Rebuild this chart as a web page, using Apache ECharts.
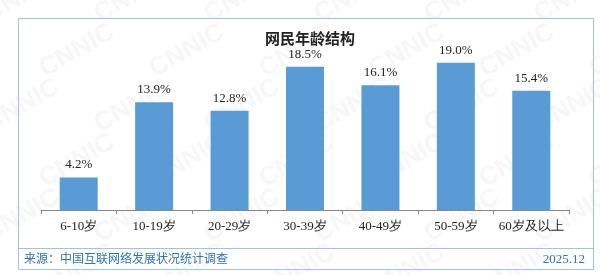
<!DOCTYPE html>
<html>
<head>
<meta charset="utf-8">
<script src="https://cdn.jsdelivr.net/npm/echarts@6/dist/echarts.min.js"></script>
<style>
  html, body { margin: 0; padding: 0; background: #fff; }
  #main { width: 600px; height: 275px; }
</style>
</head>
<body>
<div id="main"></div>
<script>
var ageGroups = ['6-10岁', '10-19岁', '20-29岁', '30-39岁', '40-49岁', '50-59岁', '60岁及以上'];
var shares = [4.2, 13.9, 12.8, 18.5, 16.1, 19.0, 15.4];

var myChart = echarts.init(document.getElementById('main'));

// faint CNNIC watermark
var marks = [];
for (var r = 0; r < 6; r++) {
  for (var c = 0; c < 6; c++) {
    marks.push({
      type: 'text',
      x: c * 110 + (r % 2) * 55 - 20,
      y: r * 55 + 5,
      rotation: Math.PI / 6,
      silent: true,
      z: 0,
      style: {
        text: 'CNNIC',
        fill: 'rgba(0,0,0,0.03)',
        font: 'bold 26px Arial'
      }
    });
  }
}

var option = {
  animation: false,
  title: {
    text: '网民年龄结构',
    left: 305,
    top: 26,
    textAlign: 'center',
    textStyle: {
      fontFamily: 'Noto Sans CJK SC',
      fontSize: 15,
      fontWeight: 'bold',
      color: '#222'
    }
  },
  grid: {
    left: 41,
    right: 31,
    top: 55,
    bottom: 65
  },
  xAxis: {
    type: 'category',
    data: ageGroups,
    axisLine: { lineStyle: { color: '#888', width: 1 } },
    axisTick: { show: true, length: 4, lineStyle: { color: '#888' } },
    axisLabel: {
      interval: 0,
      margin: 10,
      fontFamily: 'Liberation Serif',
      fontSize: 13,
      color: '#222'
    }
  },
  yAxis: {
    type: 'value',
    min: 0,
    max: 20,
    show: false,
    splitLine: { show: false }
  },
  graphic: marks.concat([
    {
      type: 'rect',
      shape: { x: 18.5, y: 18.5, width: 575, height: 251 },
      style: { fill: 'none', stroke: '#9dc3e6', lineWidth: 1 },
      silent: true
    },
    {
      type: 'line',
      shape: { x1: 18.5, y1: 248.5, x2: 593.5, y2: 248.5 },
      style: { stroke: '#9dc3e6', lineWidth: 1 },
      silent: true
    },
    {
      type: 'text',
      left: 24,
      top: 252,
      style: {
        text: '来源：中国互联网络发展状况统计调查',
        fill: '#2e75b6',
        font: '12px "Noto Sans CJK SC"'
      }
    },
    {
      type: 'text',
      right: 15,
      top: 253,
      style: {
        text: '2025.12',
        fill: '#2e75b6',
        font: '13px "Liberation Serif"'
      }
    }
  ]),
  series: [{
    type: 'bar',
    data: shares,
    barWidth: 38,
    itemStyle: { color: '#5b9bd5' },
    label: {
      show: true,
      position: 'top',
      distance: 6,
      fontFamily: 'Liberation Serif',
      fontSize: 13,
      color: '#222',
      // keep one decimal on labels like 19.0
      formatter: function(p) {
        return p.value.toFixed(1) + '%';
      }
    }
  }]
};

myChart.setOption(option);
</script>
</body>
</html>
